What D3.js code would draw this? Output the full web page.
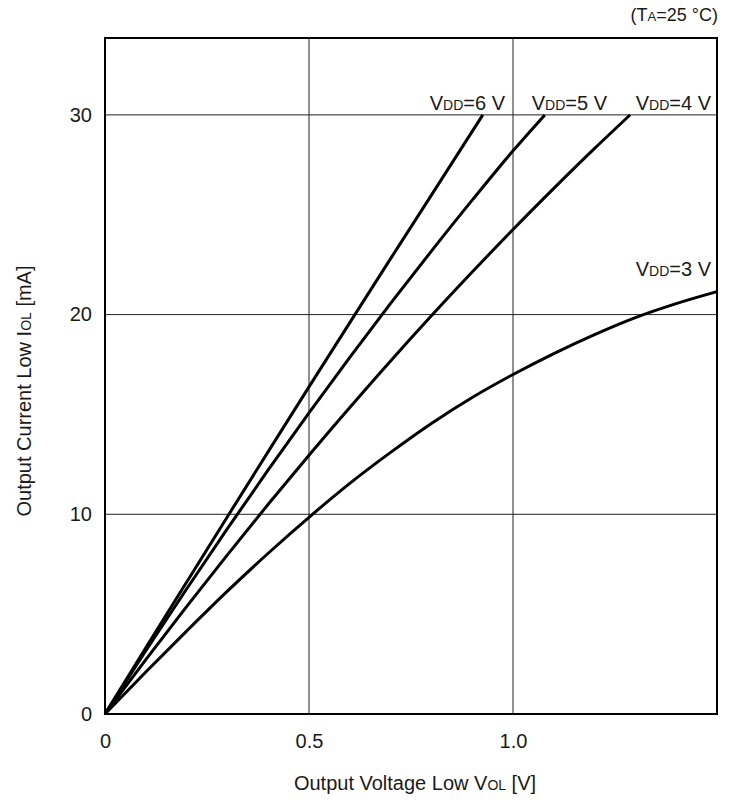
<!DOCTYPE html>
<html><head><meta charset="utf-8">
<script src="https://cdn.jsdelivr.net/npm/d3@7"></script>
<style>
body{margin:0;background:#fff;}
text{font-family:"Liberation Sans",Arial,sans-serif;fill:#1a1a1a;}
</style></head>
<body><svg id="c" width="734" height="803"></svg>
<script>
const xTicks = [0, 0.5, 1.0];
const xTickLabels = ["0", "0.5", "1.0"];
const yTicks = [0, 10, 20, 30];
const yTickLabels = ["0", "10", "20", "30"];
const seriesNames = ["6", "5", "4", "3"];
const v6 = [0, 0.1, 0.2, 0.3, 0.4, 0.5, 0.6, 0.7, 0.8, 0.926];
const i6 = [0, 3.31, 6.6, 9.88, 13.14, 16.38, 19.6, 22.8, 25.98, 30];
const v5 = [0, 0.1, 0.2, 0.3, 0.4, 0.5, 0.6, 0.7, 0.8, 0.9, 1.0, 1.078];
const i5 = [0, 3.17, 6.26, 9.28, 12.22, 15.08, 17.86, 20.56, 23.18, 25.73, 28.2, 30];
const v4 = [0, 0.1, 0.2, 0.3, 0.4, 0.5, 0.6, 0.7, 0.8, 0.9, 1.0, 1.1, 1.2, 1.287];
const i4 = [0, 2.72, 5.38, 7.97, 10.5, 12.96, 15.35, 17.68, 19.94, 22.13, 24.26, 26.32, 28.32, 30];
const v3 = [0, 0.1, 0.2, 0.3, 0.4, 0.5, 0.6, 0.7, 0.8, 0.9, 1.0, 1.1, 1.2, 1.3, 1.4, 1.5];
const i3 = [0, 2.1, 4.15, 6.15, 8.05, 9.85, 11.55, 13.1, 14.55, 15.85, 17.0, 18.05, 19.0, 19.85, 20.55, 21.15];

const svg = d3.select("#c");
const L = 105, R = 717, T = 38, B = 714;
const x = d3.scaleLinear().domain([0, 1.5]).range([L, R]);
const y = d3.scaleLinear().domain([0, 33.85]).range([B, T]);
const FONT = "Liberation Sans, Arial, sans-serif";

// grid
const g = svg.append("g");
g.selectAll(".vg").data(xTicks.slice(1)).enter().append("line")
  .attr("x1", d => x(d)).attr("x2", d => x(d)).attr("y1", T).attr("y2", B)
  .attr("stroke", "#222").attr("stroke-width", 1);
g.selectAll(".hg").data(yTicks.slice(1)).enter().append("line")
  .attr("y1", d => y(d)).attr("y2", d => y(d)).attr("x1", L).attr("x2", R)
  .attr("stroke", "#222").attr("stroke-width", 1);

// axes labels via d3 axes
const xAxis = d3.axisBottom(x).tickValues(xTicks).tickFormat((d, i) => xTickLabels[i]).tickSize(0).tickPadding(20);
const ax = svg.append("g").attr("transform", `translate(0,${B})`).call(xAxis);
ax.select(".domain").remove();
ax.selectAll("text").attr("font-size", 20).attr("font-family", FONT).attr("fill", "#1a1a1a");
const yAxis = d3.axisLeft(y).tickValues(yTicks).tickFormat((d, i) => yTickLabels[i]).tickSize(0).tickPadding(13);
const ay = svg.append("g").attr("transform", `translate(${L},0)`).call(yAxis);
ay.select(".domain").remove();
ay.selectAll("text").attr("font-size", 20).attr("font-family", FONT).attr("fill", "#1a1a1a");

// curves
const line = d3.line().x(d => x(d[0])).y(d => y(d[1])).curve(d3.curveMonotoneX);
const data = [[v6, i6], [v5, i5], [v4, i4], [v3, i3]];
svg.selectAll(".curve").data(data).enter().append("path")
  .attr("d", d => line(d[0].map((v, k) => [v, d[1][k]])))
  .attr("fill", "none").attr("stroke", "#000").attr("stroke-width", 3);

// frame
svg.append("rect").attr("x", L).attr("y", T).attr("width", R - L).attr("height", B - T)
  .attr("fill", "none").attr("stroke", "#000").attr("stroke-width", 2);

// series labels
function vdd(xr, yb, n) {
  const t = svg.append("text").attr("x", xr).attr("y", yb).attr("text-anchor", "end").attr("font-size", 20);
  t.append("tspan").text("V");
  t.append("tspan").attr("font-size", 14).text("DD");
  t.append("tspan").text("=" + n + " V");
}
vdd(505, 110, seriesNames[0]);
vdd(607, 110, seriesNames[1]);
vdd(711, 110, seriesNames[2]);
vdd(711, 276, seriesNames[3]);

// condition
const tc = svg.append("text").attr("x", 718).attr("y", 21).attr("text-anchor", "end").attr("font-size", 18);
tc.append("tspan").text("(T");
tc.append("tspan").attr("font-size", 13).text("A");
tc.append("tspan").text("=25 °C)");

// axis titles
const xt = svg.append("text").attr("x", 415).attr("y", 790).attr("text-anchor", "middle").attr("font-size", 20);
xt.append("tspan").text("Output Voltage Low V");
xt.append("tspan").attr("font-size", 14).text("OL");
xt.append("tspan").text(" [V]");
const yt = svg.append("text").attr("transform", "translate(31,391) rotate(-90)").attr("text-anchor", "middle").attr("font-size", 20);
yt.append("tspan").text("Output Current Low I");
yt.append("tspan").attr("font-size", 14).text("OL");
yt.append("tspan").text(" [mA]");
</script></body></html>
